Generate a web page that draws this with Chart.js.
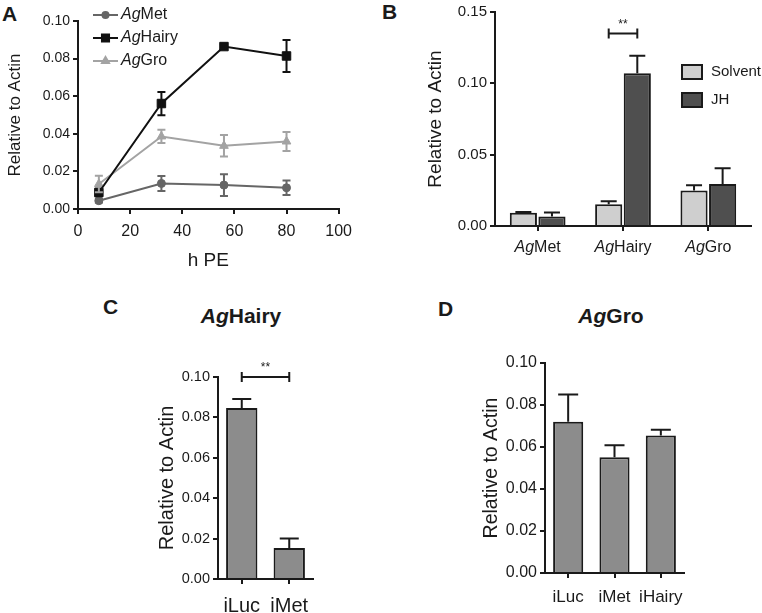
<!DOCTYPE html>
<html>
<head>
<meta charset="utf-8">
<script src="https://cdn.jsdelivr.net/npm/chart.js@4.4.1/dist/chart.umd.min.js"></script>
<style>
    body { margin: 0; width: 762px; height: 613px; overflow: hidden; background: #fff; position: relative; font-family: "Liberation Sans", Arial, sans-serif; color: #1a1a1a; }
    canvas { position: absolute; }
    .letter { position: absolute; font-weight: bold; font-size: 21px; line-height: 1; }
    .title { position: absolute; font-weight: bold; font-size: 21px; line-height: 1; transform: translateX(-50%); white-space: nowrap; }
</style>
</head>
<body>
<div class="letter" style="left:2px;top:3px">A</div>
<div class="letter" style="left:382px;top:1px">B</div>
<div class="letter" style="left:103px;top:296px">C</div>
<div class="letter" style="left:438px;top:298px">D</div>
<div class="title" style="left:241px;top:305px"><i>Ag</i>Hairy</div>
<div class="title" style="left:611px;top:305px"><i>Ag</i>Gro</div>

<canvas id="panelA" width="360" height="290" style="left:0;top:0"></canvas>
<canvas id="panelB" width="382" height="290" style="left:380px;top:0"></canvas>
<canvas id="panelC" width="220" height="283" style="left:100px;top:340px"></canvas>
<canvas id="panelD" width="280" height="293" style="left:420px;top:330px"></canvas>

<script>
// A: time course (h post emergence)
const hours = [8, 32, 56, 80];
const metMean = [0.0044, 0.0136, 0.0127, 0.0113];
const metErr = [0.0010, 0.0040, 0.0058, 0.0039];
const hairyMean = [0.0088, 0.0561, 0.0864, 0.0814];
const hairyErr = [0.0020, 0.0062, 0.0010, 0.0085];
const groMean = [0.0133, 0.0386, 0.0336, 0.0359];
const groErr = [0.0044, 0.0035, 0.0057, 0.0050];

// B: JH treatment
const genes = ["AgMet", "AgHairy", "AgGro"];
const solventMean = [0.0093, 0.0153, 0.0249];
const solventErr = [0.0005, 0.0021, 0.0037];
const jhMean = [0.0067, 0.1070, 0.0295];
const jhErr = [0.0028, 0.0123, 0.0110];

// C: AgHairy after RNAi
const rnaiC = ["iLuc", "iMet"];
const hairyKd = [0.0847, 0.0153];
const hairyKdErr = [0.0044, 0.0048];

// D: AgGro after RNAi
const rnaiD = ["iLuc", "iMet", "iHairy"];
const groKd = [0.0720, 0.0551, 0.0655];
const groKdErr = [0.0130, 0.0057, 0.0027];

const font = '"Liberation Sans", Arial, sans-serif';
const ink = "#1a1a1a";

// "Ag" prefix is italic, rest upright
function drawAgText(ctx, label, x, y, size, align) {
    const parts = label.startsWith("Ag") ? [["Ag", "italic "], [label.slice(2), ""]] : [[label, ""]];
    let total = 0;
    parts.forEach(p => { ctx.font = `${p[1]}${size}px ${font}`; total += ctx.measureText(p[0]).width; });
    let cx = align === "center" ? x - total / 2 : x;
    ctx.textAlign = "left";
    ctx.textBaseline = "middle";
    parts.forEach(p => {
        ctx.font = `${p[1]}${size}px ${font}`;
        ctx.fillText(p[0], cx, y);
        cx += ctx.measureText(p[0]).width;
    });
}

const errorBars = {
    id: "errorBars",
    afterDatasetsDraw(chart, args, opts) {
        if (!opts.cap) return;
        const ctx = chart.ctx;
        chart.data.datasets.forEach((ds, i) => {
            const meta = chart.getDatasetMeta(i);
            const yScale = chart.scales[meta.yAxisID];
            meta.data.forEach((el, j) => {
                const d = ds.data[j];
                const v = typeof d === "object" ? d.y : d;
                const top = yScale.getPixelForValue(v + ds.errors[j]);
                const bot = opts.both ? yScale.getPixelForValue(v - ds.errors[j]) : el.y;
                ctx.save();
                ctx.strokeStyle = ds.errorColor || ink;
                ctx.lineWidth = 2;
                ctx.beginPath();
                ctx.moveTo(el.x, top); ctx.lineTo(el.x, bot);
                ctx.moveTo(el.x - opts.cap / 2, top); ctx.lineTo(el.x + opts.cap / 2, top);
                if (opts.both) { ctx.moveTo(el.x - opts.cap / 2, bot); ctx.lineTo(el.x + opts.cap / 2, bot); }
                ctx.stroke();
                ctx.restore();
            });
        });
    }
};

const sigBracket = {
    id: "sigBracket",
    afterDatasetsDraw(chart, args, opts) {
        if (!opts.from) return;
        const ctx = chart.ctx;
        const x1 = chart.getDatasetMeta(opts.from[0]).data[opts.from[1]].x;
        const x2 = chart.getDatasetMeta(opts.to[0]).data[opts.to[1]].x;
        const y = chart.scales.y.getPixelForValue(opts.level);
        ctx.save();
        ctx.strokeStyle = ink; ctx.lineWidth = 2;
        ctx.beginPath();
        ctx.moveTo(x1, y); ctx.lineTo(x2, y);
        ctx.moveTo(x1, y - 5); ctx.lineTo(x1, y + 5);
        ctx.moveTo(x2, y - 5); ctx.lineTo(x2, y + 5);
        ctx.stroke();
        ctx.fillStyle = ink;
        ctx.font = `12px ${font}`;
        ctx.textAlign = "center"; ctx.textBaseline = "middle";
        ctx.fillText("**", (x1 + x2) / 2, y - 9);
        ctx.restore();
    }
};

const seriesLegend = {
    id: "seriesLegend",
    afterDraw(chart, args, opts) {
        if (!opts.kind) return;
        const ctx = chart.ctx;
        chart.data.datasets.forEach((ds, i) => {
            const y = opts.y + i * opts.gap;
            ctx.save();
            if (opts.kind === "line") {
                ctx.strokeStyle = ds.borderColor; ctx.lineWidth = 2;
                ctx.beginPath(); ctx.moveTo(opts.x, y); ctx.lineTo(opts.x + 25, y); ctx.stroke();
                ctx.fillStyle = ds.pointBackgroundColor;
                Chart.helpers.drawPoint(ctx, { pointStyle: ds.pointStyle, radius: ds.pointRadius - 1, borderWidth: 1, rotation: 0 }, opts.x + 12.5, y);
            } else {
                ctx.fillStyle = ds.backgroundColor; ctx.strokeStyle = ds.borderColor; ctx.lineWidth = 2;
                ctx.fillRect(opts.x, y - 7, 20, 14);
                ctx.strokeRect(opts.x, y - 7, 20, 14);
            }
            ctx.fillStyle = ink;
            drawAgText(ctx, ds.label, opts.x + opts.textOff, y, opts.size, "left");
            ctx.restore();
        });
    }
};

const agTicks = {
    id: "agTicks",
    afterDraw(chart, args, opts) {
        if (!opts.y) return;
        const ctx = chart.ctx;
        const sx = chart.scales.x;
        ctx.save();
        ctx.fillStyle = ink;
        chart.data.labels.forEach((l, i) => drawAgText(ctx, l, sx.getPixelForTick(i), opts.y, opts.size, "center"));
        ctx.restore();
    }
};

Chart.register(errorBars, sigBracket, seriesLegend, agTicks);

function yAxis(max, step, tickSize, titleSize, titlePad, width) {
    return {
        min: 0, max: max,
        ticks: { stepSize: step, callback: v => v.toFixed(2), font: { family: font, size: tickSize }, color: ink, padding: 3 },
        grid: { drawOnChartArea: false, color: ink, lineWidth: 2, tickLength: 5 },
        border: { color: ink, width: 2 },
        title: { display: true, text: "Relative to Actin", font: { family: font, size: titleSize }, color: ink, padding: { top: titlePad, bottom: 0 } },
        afterFit: s => { s.width = width; }
    };
}

function xCategory(tickSize, tickPad, height, hideLabels) {
    return {
        offset: true,
        ticks: { font: { family: font, size: tickSize }, color: hideLabels ? "rgba(0,0,0,0)" : ink, padding: tickPad, maxRotation: 0, autoSkip: false },
        grid: { offset: false, drawOnChartArea: false, color: ink, lineWidth: 2, tickLength: 5 },
        border: { color: ink, width: 2 },
        afterFit: s => { s.height = height; }
    };
}

const base = { responsive: false, animation: false, events: [] };

// Panel A
new Chart(document.getElementById("panelA"), {
    type: "line",
    data: {
        datasets: [
            { label: "AgMet", data: hours.map((h, i) => ({ x: h, y: metMean[i] })), errors: metErr, borderColor: "#666666", pointBackgroundColor: "#666666", errorColor: "#666666", pointStyle: "circle", pointRadius: 4 },
            { label: "AgHairy", data: hours.map((h, i) => ({ x: h, y: hairyMean[i] })), errors: hairyErr, borderColor: "#111111", pointBackgroundColor: "#111111", errorColor: "#111111", pointStyle: "rect", pointRadius: 6 },
            { label: "AgGro", data: hours.map((h, i) => ({ x: h, y: groMean[i] })), errors: groErr, borderColor: "#a3a3a3", pointBackgroundColor: "#a3a3a3", errorColor: "#a3a3a3", pointStyle: "triangle", pointRadius: 5 }
        ].map(ds => Object.assign(ds, { borderWidth: 2, tension: 0, pointBorderColor: ds.borderColor, pointBorderWidth: 1 }))
    },
    options: Object.assign({}, base, {
        layout: { padding: { top: 21, right: 20, bottom: 0, left: 0 } },
        plugins: {
            legend: { display: false }, tooltip: { enabled: false },
            errorBars: { cap: 8, both: true },
            seriesLegend: { kind: "line", x: 93, y: 15, gap: 23, textOff: 28, size: 16 }
        },
        scales: {
            x: {
                type: "linear", min: 0, max: 100,
                ticks: { stepSize: 20, font: { family: font, size: 16 }, color: ink, padding: 8 },
                grid: { drawOnChartArea: false, color: ink, lineWidth: 2, tickLength: 5 },
                border: { color: ink, width: 2 },
                title: { display: true, text: "h PE", font: { family: font, size: 19 }, color: ink, padding: { top: 0, bottom: 18 } },
                afterFit: s => { s.height = 81; }
            },
            y: yAxis(0.1, 0.02, 14, 17, 5, 78)
        }
    })
});

// Panel B
new Chart(document.getElementById("panelB"), {
    type: "bar",
    data: {
        labels: genes,
        datasets: [
            { label: "Solvent", data: solventMean, errors: solventErr, backgroundColor: "#cfcfcf" },
            { label: "JH", data: jhMean, errors: jhErr, backgroundColor: "#4f4f4f" }
        ].map(ds => Object.assign(ds, { borderColor: ink, borderWidth: 2, borderSkipped: "bottom", categoryPercentage: 0.67, barPercentage: 0.95 }))
    },
    options: Object.assign({}, base, {
        layout: { padding: { top: 11, right: 11, bottom: 0, left: 0 } },
        plugins: {
            legend: { display: false }, tooltip: { enabled: false },
            errorBars: { cap: 16 },
            sigBracket: { from: [0, 1], to: [1, 1], level: 0.135 },
            seriesLegend: { kind: "box", x: 302, y: 72, gap: 28, textOff: 29, size: 15 },
            agTicks: { y: 248, size: 16 }
        },
        scales: { x: xCategory(16, 8, 64, true), y: yAxis(0.15, 0.05, 15, 19, 44, 115) }
    })
});

// Panel C
new Chart(document.getElementById("panelC"), {
    type: "bar",
    data: {
        labels: rnaiC,
        datasets: [{ label: "AgHairy", data: hairyKd, errors: hairyKdErr, backgroundColor: "#8c8c8c", borderColor: ink, borderWidth: 2, borderSkipped: "bottom", categoryPercentage: 1, barPercentage: 0.66 }]
    },
    options: Object.assign({}, base, {
        layout: { padding: { top: 37, right: 7, bottom: 0, left: 0 } },
        plugins: {
            legend: { display: false }, tooltip: { enabled: false },
            errorBars: { cap: 19 },
            sigBracket: { from: [0, 0], to: [0, 1], level: 0.1 }
        },
        scales: { x: xCategory(20, 10, 44, false), y: yAxis(0.1, 0.02, 14.5, 20, 55, 118) }
    })
});

// Panel D
new Chart(document.getElementById("panelD"), {
    type: "bar",
    data: {
        labels: rnaiD,
        datasets: [{ label: "AgGro", data: groKd, errors: groKdErr, backgroundColor: "#8c8c8c", borderColor: ink, borderWidth: 2, borderSkipped: "bottom", categoryPercentage: 1, barPercentage: 0.65 }]
    },
    options: Object.assign({}, base, {
        layout: { padding: { top: 33, right: 16, bottom: 0, left: 0 } },
        plugins: {
            legend: { display: false }, tooltip: { enabled: false },
            errorBars: { cap: 20 }
        },
        scales: { x: xCategory(17, 9, 50, false), y: yAxis(0.1, 0.02, 16, 19.5, 60, 125) }
    })
});
</script>
</body>
</html>
